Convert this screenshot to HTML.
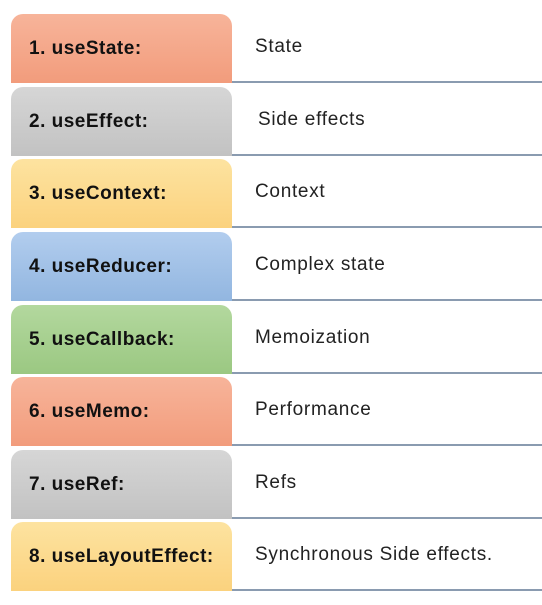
<!DOCTYPE html>
<html><head><style>
body{margin:0;width:542px;height:605px;background:#fff;position:relative;overflow:hidden;font-family:"Liberation Sans",sans-serif}
.row{position:absolute;left:0;width:542px;height:69px}
.box{position:absolute;left:11px;top:0;width:221px;height:69px;border-radius:12px 12px 0 0}
.k{position:absolute;left:29px;top:0;line-height:69px;font-weight:bold;font-size:19px;letter-spacing:0.5px;color:#111}
.v{position:absolute;left:255px;top:0;line-height:66px;font-size:19px;letter-spacing:0.7px;color:#222}
.line{position:absolute;left:232px;right:0;bottom:0;height:2px;background:#8a9bb0}
</style></head><body>
<div class="row" style="top:14px"><div class="box" style="background:linear-gradient(#f7b49a,#f29c7c)"></div><div class="k">1. useState:</div><div class="v">State</div><div class="line"></div></div>
<div class="row" style="top:87px"><div class="box" style="background:linear-gradient(#d6d6d6,#c2c2c2)"></div><div class="k">2. useEffect:</div><div class="v" style="left:258px">Side effects</div><div class="line"></div></div>
<div class="row" style="top:159px"><div class="box" style="background:linear-gradient(#fde3a0,#fbd27e)"></div><div class="k">3. useContext:</div><div class="v">Context</div><div class="line"></div></div>
<div class="row" style="top:232px"><div class="box" style="background:linear-gradient(#b2cdee,#92b6e0)"></div><div class="k">4. useReducer:</div><div class="v">Complex state</div><div class="line"></div></div>
<div class="row" style="top:305px"><div class="box" style="background:linear-gradient(#b3d89e,#9bc882)"></div><div class="k">5. useCallback:</div><div class="v">Memoization</div><div class="line"></div></div>
<div class="row" style="top:377px"><div class="box" style="background:linear-gradient(#f7b49a,#f29c7c)"></div><div class="k">6. useMemo:</div><div class="v">Performance</div><div class="line"></div></div>
<div class="row" style="top:450px"><div class="box" style="background:linear-gradient(#d6d6d6,#c2c2c2)"></div><div class="k">7. useRef:</div><div class="v">Refs</div><div class="line"></div></div>
<div class="row" style="top:522px"><div class="box" style="background:linear-gradient(#fde3a0,#fbd27e)"></div><div class="k">8. useLayoutEffect:</div><div class="v">Synchronous Side effects.</div><div class="line"></div></div>
</body></html>
